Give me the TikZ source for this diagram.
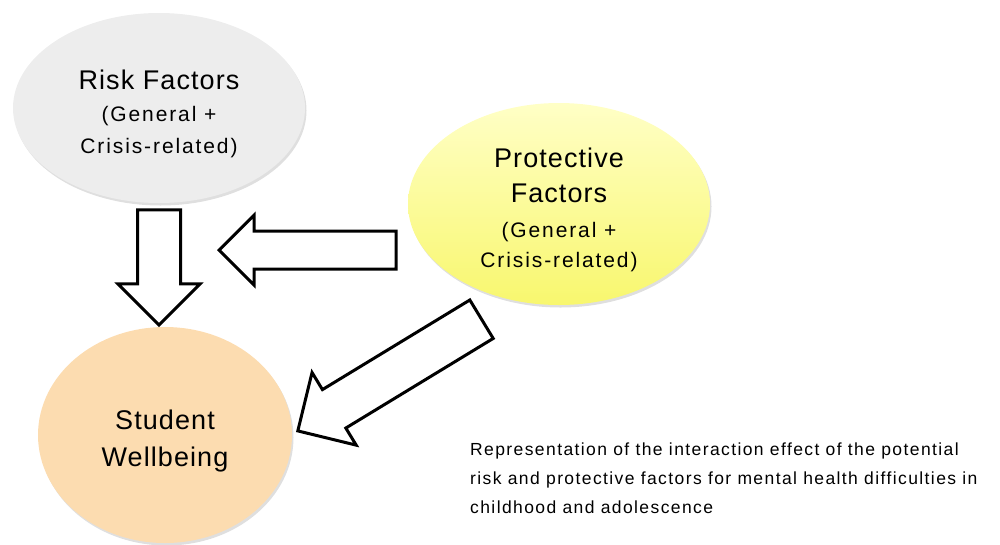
\documentclass[tikz,border=0pt]{standalone}
\usepackage{fontspec}
\setmainfont{Liberation Sans}
\newfontfamily\mainlabelfont[LetterSpace=4]{Liberation Sans}
\newfontfamily\sublabelfont[LetterSpace=9]{Liberation Sans}
\newfontfamily\captionfont[LetterSpace=8]{Liberation Sans}
\usepackage{tikz}
\usetikzlibrary{shapes.geometric}
\usetikzlibrary{shapes.arrows}
\usetikzlibrary{shadows}
\definecolor{riskgray}{HTML}{EDEDED}
\definecolor{protlight}{HTML}{FFFFC6}
\definecolor{protdark}{HTML}{F8F76E}
\definecolor{wellpeach}{HTML}{FCDCB0}
\tikzset{factor/.style={shape=ellipse,inner sep=0pt,drop shadow={shadow xshift=1.5pt,shadow yshift=-2.5pt,opacity=0.25}}}
\tikzset{factortext/.style={align=center,yshift=-6pt,font=\mainlabelfont\fontsize{27}{32}\selectfont}}
\tikzset{blockarrow/.style={single arrow,draw=black,line width=3pt,fill=white,single arrow tip angle=90,single arrow head indent=0pt}}
\newcommand\sublabel[1]{{\sublabelfont\fontsize{21}{32}\selectfont #1}}

\begin{document}
\begin{tikzpicture}[x=1pt,y=-1pt]
	\useasboundingbox (0,0) rectangle (1000,544);
	\node[factor,fill=riskgray,minimum width=292pt,minimum height=190pt] (risk) at (159,108) {};
	\node[factortext] (risktext) at (risk) {Risk Factors\\\sublabel{(General +}\\\sublabel{Crisis-related)}};
	\node[factor,top color=protlight,bottom color=protdark,minimum width=302pt,minimum height=202pt] (protective) at (559,204) {};
	\node[factortext] (protectivetext) at (protective) {Protective\\[3pt]Factors\\[3pt]\sublabel{(General +}\\[-2pt]\sublabel{Crisis-related)}};
	\node[factor,fill=wellpeach,minimum width=254pt,minimum height=216pt] (wellbeing) at (165,435) {};
	\node[factortext] (wellbeingtext) at (wellbeing) {Student\\[5pt]Wellbeing};
	\node[blockarrow,inner sep=20pt,single arrow head extend=19.5pt,minimum height=115pt,rotate=-90,anchor=tip] (riskarrow) at (159,327) {};
	\node[blockarrow,inner sep=17.5pt,single arrow head extend=16pt,minimum height=177pt,rotate=180,anchor=tip] (interarrow) at (217,250) {};
	\node[blockarrow,inner sep=21pt,single arrow head extend=20pt,minimum height=215pt,rotate=211.3,anchor=tip] (protarrow) at (296,432) {};
	\node[anchor=base west,align=left,inner sep=0pt,font=\captionfont\fontsize{17.5}{29}\selectfont] (caption) at (470,513) {Representation of the interaction effect of the potential\\risk and protective factors for mental health difficulties in\\childhood and adolescence};
\end{tikzpicture}
\end{document}
